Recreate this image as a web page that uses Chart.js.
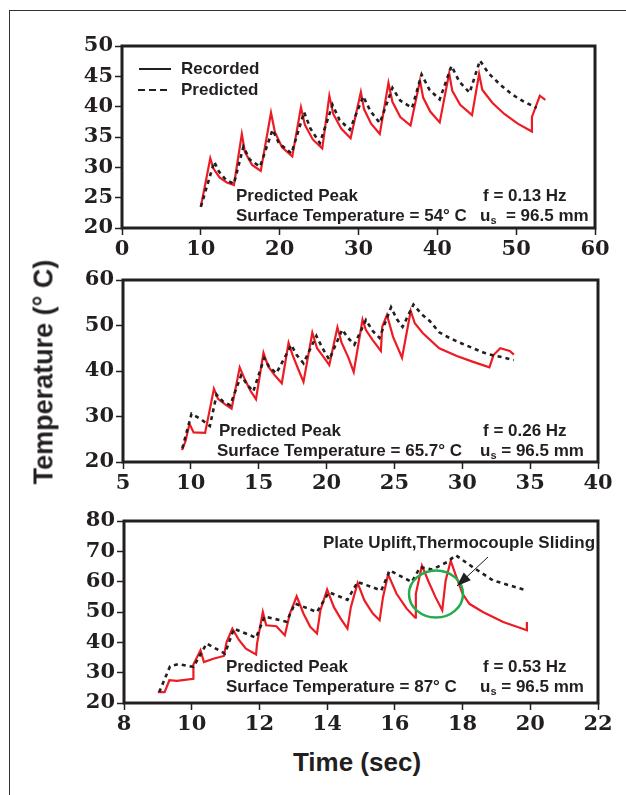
<!DOCTYPE html>
<html>
<head>
<meta charset="utf-8">
<script src="https://cdn.jsdelivr.net/npm/chart.js@4.4.1/dist/chart.umd.min.js"></script>
<style>
  body { margin: 0; background: #fff; width: 626px; height: 795px; position: relative; overflow: hidden;
         font-family: "Liberation Sans", Arial, sans-serif; color: #231f20; }
  .frame { position: absolute; left: 9px; top: 10px; right: -5px; bottom: -5px;
           border-left: 1.5px solid #333; border-top: 1.5px solid #333; }
  canvas { position: absolute; left: 0; }
  #ytitle { position: absolute; left: 44px; top: 372px; transform: translate(-50%, -50%) rotate(-90deg);
            font-weight: bold; font-size: 27px; white-space: nowrap; }
  #xtitle { position: absolute; left: 357px; top: 762px; transform: translate(-50%, -50%);
            font-weight: bold; font-size: 26px; white-space: nowrap; }
</style>
</head>
<body>
<div class="frame"></div>
<canvas id="c1" width="626" height="242" style="top:26px"></canvas>
<canvas id="c2" width="626" height="242" style="top:260px"></canvas>
<canvas id="c3" width="626" height="242" style="top:501px"></canvas>
<div id="ytitle">Temperature (° C)</div>
<div id="xtitle">Time (sec)</div>
<script>
// panel 1, f = 0.13 Hz
const p1RecTime = [10.0, 11.2, 11.6, 12.4, 13.3, 14.2, 15.2, 15.6, 16.5, 17.6, 18.9, 19.4, 20.3, 21.6,
  22.7, 23.2, 24.2, 25.4, 26.3, 26.8, 27.8, 29.0, 30.3, 30.7, 31.6, 32.7, 33.8, 34.3, 35.3, 36.6,
  37.8, 38.2, 39.1, 40.3, 41.5, 41.9, 42.9, 44.4, 45.3, 45.7, 47.0, 48.5, 50.2, 52.0, 52.0, 53.0, 53.7];
const p1RecTemp = [23.5, 31.5, 29.8, 28.3, 27.5, 27.1, 35.5, 32.5, 30.4, 29.4, 39.0, 35.8, 33.3, 31.8,
  39.9, 37.0, 34.6, 33.1, 41.8, 38.8, 36.4, 34.8, 42.4, 39.6, 37.2, 35.5, 43.9, 40.8, 38.3, 36.9,
  44.3, 41.5, 39.2, 37.4, 45.5, 42.6, 40.3, 38.6, 45.4, 42.8, 40.6, 38.8, 37.2, 35.9, 38.3, 41.8, 41.1];
const p1PredTime = [10.0, 11.7, 12.3, 13.2, 14.2, 15.4, 16.2, 17.5, 19.1, 19.9, 21.5, 23.1, 23.9, 25.1,
  26.7, 27.6, 28.9, 30.6, 31.5, 32.7, 34.3, 35.3, 36.8, 38.0, 39.0, 40.3, 41.8, 42.8, 44.1,
  45.4, 46.5, 48.0, 49.5, 51.0, 52.6];
const p1PredTemp = [23.5, 30.9, 29.3, 27.9, 27.3, 33.4, 31.3, 30.1, 36.2, 34.0, 32.3, 39.1, 36.4, 34.0,
  40.3, 37.8, 36.2, 41.7, 39.3, 37.3, 43.1, 41.0, 39.8, 45.3, 42.8, 41.2, 46.7, 44.1, 42.3,
  47.6, 45.5, 43.6, 42.0, 40.8, 39.8];
const p1XTicks = [0, 10, 20, 30, 40, 50, 60];
const p1YTicks = [20, 25, 30, 35, 40, 45, 50];

// panel 2, f = 0.26 Hz
const p2RecTime = [9.35, 9.6, 9.9, 10.2, 11.05, 11.7, 12.0, 12.5, 13.0, 13.6, 14.0, 14.4, 14.8,
  15.35, 15.7, 16.2, 16.7, 17.2, 17.5, 17.9, 18.3, 18.95, 19.3, 19.8, 20.2, 20.8, 21.1, 21.6, 22.0,
  22.65, 22.9, 23.4, 24.0, 24.1, 24.45, 24.9, 25.56, 26.2, 26.5, 27.1, 28.3, 29.6, 30.8, 32.0,
  32.3, 32.8, 33.5, 33.8];
const p2RecTemp = [22.6, 24.5, 28.4, 26.5, 26.4, 36.1, 33.9, 32.7, 31.7, 40.8, 38.0, 35.6, 33.8,
  44.0, 41.0, 39.0, 37.3, 46.2, 43.5, 40.5, 37.6, 48.4, 45.0, 43.0, 41.3, 49.6, 46.3, 43.0, 39.8,
  51.3, 49.0, 46.8, 44.4, 49.7, 52.3, 47.5, 42.9, 53.2, 50.5, 48.3, 45.0, 43.3, 42.0, 40.8,
  43.5, 45.0, 44.4, 43.6];
const p2PredTime = [9.37, 10.05, 10.8, 11.4, 11.9, 12.4, 12.9, 13.7, 14.2, 14.6, 15.4, 15.8, 16.3,
  17.4, 17.8, 18.3, 19.25, 19.7, 20.2, 21.15, 21.6, 22.05, 22.9, 23.4, 23.9, 24.75, 25.2, 25.6,
  26.4, 27.0, 27.6, 28.3, 29.1, 30.0, 30.8, 31.6, 32.3, 33.0, 33.8];
const p2PredTemp = [23.0, 30.6, 29.3, 27.9, 34.8, 33.2, 32.5, 39.0, 36.8, 35.5, 42.8, 40.8, 39.5,
  45.7, 43.5, 41.7, 47.7, 45.0, 42.5, 49.1, 47.2, 45.8, 51.2, 48.8, 47.3, 54.0, 51.3, 49.7,
  54.6, 52.5, 51.0, 48.5, 47.2, 46.0, 45.0, 44.0, 43.4, 43.0, 42.4];
const p2XTicks = [5, 10, 15, 20, 25, 30, 35, 40];
const p2YTicks = [20, 30, 40, 50, 60];

// panel 3, f = 0.53 Hz
const p3RecTime = [9.0, 9.2, 9.34, 9.56, 10.05, 10.05, 10.26, 10.36, 10.64, 10.95, 11.03, 11.2, 11.4,
  11.6, 11.9, 11.93, 12.1, 12.2, 12.5, 12.75, 12.9, 13.1, 13.3, 13.5, 13.7, 13.8, 14.0, 14.2, 14.4,
  14.6, 14.7, 14.9, 15.1, 15.35, 15.55, 15.65, 15.8, 16.05, 16.35, 16.6, 16.62, 16.8, 17.0, 17.2,
  17.4, 17.5, 17.65, 17.8, 18.0, 18.2, 18.6, 19.2, 19.9, 19.9];
const p3RecTemp = [23.6, 23.6, 27.5, 27.3, 28.0, 32.7, 37.4, 33.5, 34.6, 35.5, 40.1, 44.5, 40.7,
  37.9, 36.0, 39.6, 50.0, 45.6, 45.3, 42.3, 49.5, 55.2, 49.5, 45.1, 42.9, 50.5, 57.4, 51.6, 47.8,
  44.5, 51.6, 59.6, 53.8, 49.5, 47.3, 54.9, 62.4, 56.0, 51.1, 48.1, 56.0, 65.3, 59.9, 54.9,
  50.6, 60.4, 66.9, 62.1, 56.0, 52.7, 50.0, 46.7, 44.0, 46.7];
const p3PredTime = [9.04, 9.36, 9.6, 10.05, 10.44, 10.98, 11.25, 11.9, 12.15, 12.8, 13.05, 13.7,
  14.05, 14.6, 14.9, 15.6, 15.85, 16.5, 16.75, 17.1, 17.55, 17.8, 18.3, 18.9, 19.9];
const p3PredTemp = [23.6, 32.1, 32.8, 31.9, 39.6, 36.3, 44.5, 41.5, 48.5, 46.8, 52.8, 50.0,
  56.5, 54.0, 59.9, 57.1, 63.7, 59.9, 64.8, 64.0, 66.5, 68.7, 64.8, 60.4, 57.1];
const p3XTicks = [8, 10, 12, 14, 16, 18, 20, 22];
const p3YTicks = [20, 30, 40, 50, 60, 70, 80];

const INK = '#231f20';
const RED = '#ed1c24';
const NOTE_FONT = 'bold 17px "Liberation Sans", Arial, sans-serif';
const TICK_FONT = { family: '"DejaVu Serif", serif', size: 21, weight: 'bold' };

const pts = (xs, ys) => xs.map((x, i) => ({ x: x, y: ys[i] }));

function axis(ticks, fit) {
  return {
    type: 'linear',
    min: ticks[0],
    max: ticks[ticks.length - 1],
    afterBuildTicks: s => { s.ticks = ticks.map(v => ({ value: v })); },
    afterFit: fit,
    border: { display: false },
    grid: { drawOnChartArea: false, drawTicks: true, tickLength: 7, tickWidth: 1.5, tickColor: INK },
    ticks: { font: TICK_FONT, color: INK, padding: 2, maxRotation: 0, autoSkip: false }
  };
}

// frame box, notes, legend and markers inside each panel
function decor(o) {
  return {
    id: 'decor',
    afterDatasetsDraw(chart) {
      const ctx = chart.ctx, a = chart.chartArea;
      ctx.save();
      ctx.strokeStyle = INK;
      ctx.lineWidth = 3;
      ctx.strokeRect(a.left, a.top, a.right - a.left, a.bottom - a.top);

      ctx.fillStyle = INK;
      ctx.font = NOTE_FONT;
      ctx.textBaseline = 'alphabetic';
      ctx.fillText('Predicted Peak', a.left + o.peakAt[0], a.top + o.peakAt[1]);
      ctx.fillText('Surface Temperature = ' + o.peak, a.left + o.peakAt[0] - o.peakShift, a.top + o.peakAt[1] + 20);
      ctx.fillText('f = ' + o.freq, a.left + o.freqAt[0], a.top + o.freqAt[1]);

      let x = a.left + o.freqAt[0] - 3, y = a.top + o.freqAt[1] + 20;
      ctx.fillText('u', x, y);
      x += ctx.measureText('u').width;
      ctx.font = 'bold 11px "Liberation Sans", Arial, sans-serif';
      ctx.fillText('s', x, y + 3);
      x += ctx.measureText('s').width;
      ctx.font = NOTE_FONT;
      ctx.fillText(o.gap + '= 96.5 mm', x, y);

      if (o.extra) o.extra(ctx, a);
      ctx.restore();
    }
  };
}

function legendBox(ctx, a) {
  ctx.lineWidth = 2;
  ctx.strokeStyle = INK;
  ctx.beginPath();
  ctx.moveTo(a.left + 17, a.top + 23); ctx.lineTo(a.left + 49, a.top + 23);
  ctx.stroke();
  ctx.setLineDash([7, 4]);
  ctx.beginPath();
  ctx.moveTo(a.left + 16, a.top + 44); ctx.lineTo(a.left + 49, a.top + 44);
  ctx.stroke();
  ctx.setLineDash([]);
  ctx.textBaseline = 'middle';
  ctx.fillText('Recorded', a.left + 59, a.top + 23);
  ctx.fillText('Predicted', a.left + 59, a.top + 44);
}

function upliftMark(ctx, a) {
  ctx.textBaseline = 'alphabetic';
  ctx.fillText('Plate Uplift,Thermocouple Sliding', a.left + 199, a.top + 27);
  ctx.strokeStyle = '#22ac4b';
  ctx.lineWidth = 2.5;
  ctx.beginPath();
  ctx.ellipse(a.left + 312, a.top + 73, 27, 23.5, 0, 0, Math.PI * 2);
  ctx.stroke();
  // arrow
  const x0 = a.left + 364, y0 = a.top + 36, x1 = a.left + 333, y1 = a.top + 65;
  const ang = Math.atan2(y1 - y0, x1 - x0);
  ctx.strokeStyle = INK;
  ctx.lineWidth = 1;
  ctx.beginPath();
  ctx.moveTo(x0, y0); ctx.lineTo(x1, y1);
  ctx.stroke();
  ctx.beginPath();
  ctx.moveTo(x1, y1);
  ctx.lineTo(x1 - 15 * Math.cos(ang - 0.35), y1 - 15 * Math.sin(ang - 0.35));
  ctx.lineTo(x1 - 15 * Math.cos(ang + 0.35), y1 - 15 * Math.sin(ang + 0.35));
  ctx.closePath();
  ctx.fill();
}

function panel(id, o) {
  return new Chart(document.getElementById(id), {
    type: 'line',
    data: {
      datasets: [
        { label: 'Recorded', data: pts(o.recTime, o.recTemp), borderColor: RED, borderWidth: 2.2,
          pointRadius: 0, tension: 0, order: 1 },
        { label: 'Predicted', data: pts(o.predTime, o.predTemp), borderColor: INK, borderWidth: 2.6,
          borderDash: [4, 4], pointRadius: 0, tension: 0, order: 0 }
      ]
    },
    options: {
      responsive: false,
      animation: false,
      layout: { padding: { top: 20, right: o.padRight, bottom: 0, left: 0 } },
      plugins: { legend: { display: false }, tooltip: { enabled: false } },
      scales: {
        x: axis(o.xTicks, s => { s.height = 40; }),
        y: axis(o.yTicks, s => { s.width = o.left; })
      }
    },
    plugins: [decor(o)]
  });
}

panel('c1', {
  recTime: p1RecTime, recTemp: p1RecTemp, predTime: p1PredTime, predTemp: p1PredTemp,
  xTicks: p1XTicks, yTicks: p1YTicks, left: 122, padRight: 31,
  peak: '54° C', freq: '0.13 Hz', peakAt: [114, 155], peakShift: 0, freqAt: [361, 155], gap: '  ',
  extra: legendBox
});
panel('c2', {
  recTime: p2RecTime, recTemp: p2RecTemp, predTime: p2PredTime, predTemp: p2PredTemp,
  xTicks: p2XTicks, yTicks: p2YTicks, left: 123, padRight: 28,
  peak: '65.7° C', freq: '0.26 Hz', peakAt: [96, 156], peakShift: 2, freqAt: [360, 156], gap: ' '
});
panel('c3', {
  recTime: p3RecTime, recTemp: p3RecTemp, predTime: p3PredTime, predTemp: p3PredTemp,
  xTicks: p3XTicks, yTicks: p3YTicks, left: 124, padRight: 28,
  peak: '87° C', freq: '0.53 Hz', peakAt: [102, 151], peakShift: 0, freqAt: [359, 151], gap: ' ',
  extra: upliftMark
});
</script>
</body>
</html>
